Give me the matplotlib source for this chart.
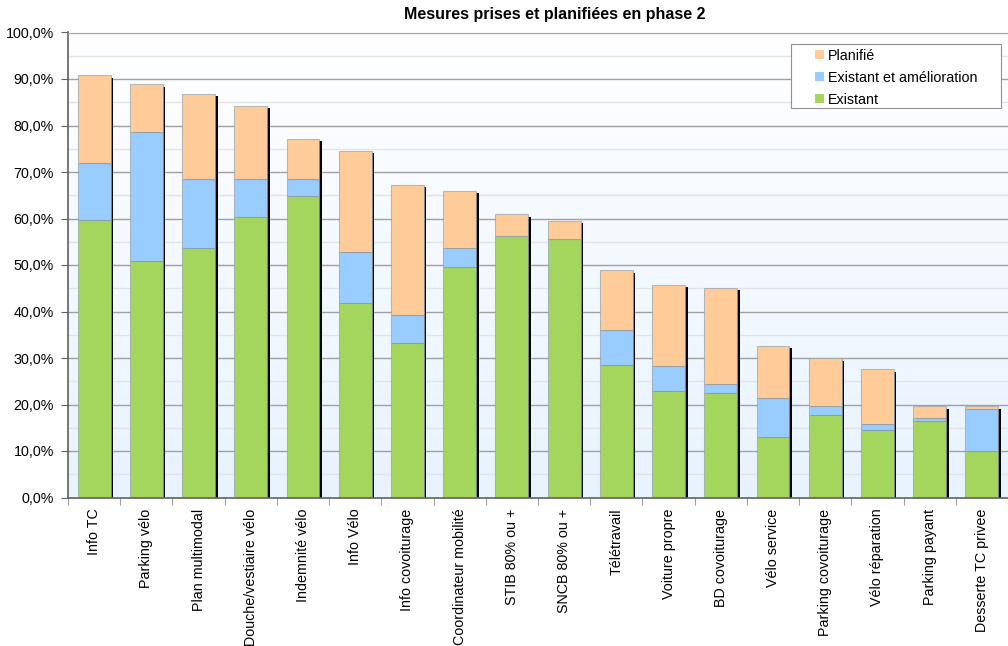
import numpy as np
import matplotlib
matplotlib.use("Agg")
import matplotlib.pyplot as plt
from matplotlib.patches import Patch, Rectangle
from matplotlib.transforms import offset_copy
from matplotlib.ticker import FuncFormatter, MultipleLocator, FixedLocator
from matplotlib.colors import LinearSegmentedColormap

plt.rcParams['font.family'] = ['Liberation Sans', 'DejaVu Sans']

categories = ["Info TC", "Parking vélo", "Plan multimodal", "Douche/vestiaire vélo",
              "Indemnité vélo", "Info Vélo", "Info covoiturage", "Coordinateur mobilité",
              "STIB 80% ou +", "SNCB 80% ou +", "Télétravail", "Voiture propre",
              "BD covoiturage", "Vélo service", "Parking covoiturage", "Vélo réparation",
              "Parking payant", "Desserte TC privee"]

# cumulative levels (%) for each stacked segment
existant = [59.6, 50.9, 53.6, 60.3, 64.9, 41.8, 33.2, 49.5, 56.2, 55.5,
            28.6, 22.9, 22.5, 13.1, 17.7, 14.5, 16.5, 9.9]
existant_amelioration_top = [71.9, 78.5, 68.6, 68.6, 68.6, 52.8, 39.2, 53.6, 56.2, 55.5,
                             36.0, 28.2, 24.4, 21.5, 19.6, 15.7, 17.0, 19.0]
planifie_top = [90.8, 88.9, 86.8, 84.2, 77.2, 74.6, 67.3, 66.0, 60.9, 59.5,
                48.9, 45.8, 45.1, 32.6, 29.9, 27.6, 19.6, 19.6]

labels = ["Planifié", "Existant et amélioration", "Existant"]
colors = ["#FFCC99", "#99CCFF", "#A4D65E"]

ex = np.array(existant)
am = np.array(existant_amelioration_top) - ex
pl = np.array(planifie_top) - np.array(existant_amelioration_top)
total = np.array(planifie_top)

W, H = 1008, 646
fig = plt.figure(figsize=(W/100, H/100), dpi=100)
ax = fig.add_axes([68/W, 1-497.5/H, 1-68/W, (497.5-32.5)/H])

n = len(categories)
x = np.arange(n)
w = 0.63

# background gradient: white at the top, pale blue at the bottom
grad = np.linspace(0, 1, 256).reshape(-1, 1)
cmap = LinearSegmentedColormap.from_list("bg", ["#FFFFFF", "#E8F3FF"])
ax.imshow(grad, aspect='auto', cmap=cmap, extent=(-0.5, n-0.5, 0, 100),
          origin='upper', zorder=0)

# grid
for v in np.arange(5, 100, 10):
    ax.axhline(v, color="#E0E4E8", lw=1.0, zorder=0.5)
for v in np.arange(10, 101, 10):
    ax.axhline(v, color="#A0A0A0", lw=1.0, zorder=0.6)

# bar shadows
shadow_tr = offset_copy(ax.transData, fig=fig, x=2.5, y=-2.5, units='dots')
sh = ax.bar(x, total, w, color="black", zorder=1.5)
for p in sh:
    p.set_transform(shadow_tr)

edge = (0.55, 0.6, 0.65, 0.6)
ax.bar(x, ex, w, color=colors[2], edgecolor=edge, lw=0.8, zorder=2)
ax.bar(x, am, w, bottom=ex, color=colors[1], edgecolor=edge, lw=0.8, zorder=2)
ax.bar(x, pl, w, bottom=ex + am, color=colors[0], edgecolor=edge, lw=0.8, zorder=2)

ax.set_xlim(-0.5, n - 0.5)
ax.set_ylim(0, 100)

ax.yaxis.set_major_locator(MultipleLocator(10))
ax.yaxis.set_major_formatter(FuncFormatter(lambda v, p: f"{v:.1f}%".replace(".", ",")))
ax.tick_params(axis='y', length=5, color="#606060", labelsize=10.3, pad=5)

ax.xaxis.set_major_locator(FixedLocator(np.arange(-0.5, n, 1)))
ax.xaxis.set_major_formatter(FuncFormatter(lambda v, p: ""))
ax.xaxis.set_minor_locator(FixedLocator(x))
ax.set_xticks(x, categories, minor=True, rotation=90, fontsize=10.3)
ax.tick_params(axis='x', which='major', length=5, color="#A0A0A0")
ax.tick_params(axis='x', which='minor', length=0, pad=8)

for s in ["left", "bottom"]:
    ax.spines[s].set_color("#606060")
    ax.spines[s].set_linewidth(1.2)
ax.spines["top"].set_color("#A0A0A0")
ax.spines["right"].set_visible(False)

fig.text(555/W, 1-14/H, "Mesures prises et planifiées en phase 2",
         ha='center', va='center', fontsize=11.5, fontweight='bold')

# legend box
box = Rectangle((790.5/W, 1-107.5/H), 210/W, 63/H, transform=fig.transFigure,
                facecolor="#FFFFFF", edgecolor="#909090", lw=0.8, zorder=4)
fig.add_artist(box)

handles = [Patch(facecolor=c, edgecolor='none') for c in colors]
leg = fig.legend(handles, labels, loc='upper left',
                 bbox_to_anchor=(815/W, 1-48.5/H), fontsize=10.3,
                 frameon=False, handlelength=0.62, handleheight=0.62,
                 handletextpad=0.3, labelspacing=0.56, borderpad=0,
                 borderaxespad=0)
leg.set_zorder(5)

fig.savefig("out.png", dpi=100)
